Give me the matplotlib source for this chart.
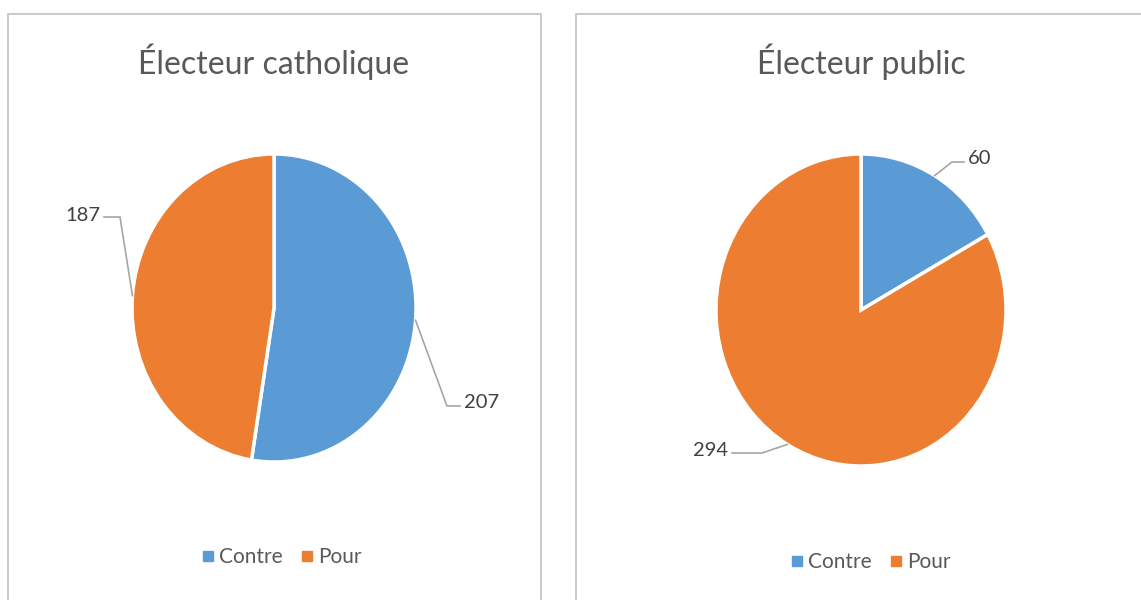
import matplotlib
matplotlib.use("Agg")
import numpy as np
import matplotlib.pyplot as plt
from matplotlib.patches import Rectangle
from matplotlib.lines import Line2D

W, H = 1141, 600

categories = ['Contre', 'Pour']
catholique = [207, 187]
public = [60, 294]
colors = ['#5B9BD5', '#ED7D31']
txt = '#595959'

plt.rcParams['font.family'] = ['Lato', 'DejaVu Sans']

fig = plt.figure(figsize=(W / 100, H / 100), dpi=100)


def fx(x):
    return x / W


def fy(y):
    return 1 - y / H


def panel(x0, x1, title, values, cx, cy, rx, ry, leg_xy, label_spots):
    # panel frame
    fig.add_artist(Rectangle((fx(x0), fy(603)), (x1 - x0) / W, (603 - 14) / H,
                             transform=fig.transFigure, fill=False,
                             edgecolor='#c6c6c6', linewidth=1.3))
    fig.text(fx(cx), fy(62), title, ha='center', va='center',
             fontsize=23, color=txt)

    # the reference is slightly stretched vertically, so the pie is an ellipse
    ax = fig.add_axes([fx(cx - rx), fy(cy + ry), 2 * rx / W, 2 * ry / H])
    wedges, _ = ax.pie(values, colors=colors, startangle=90, counterclock=False,
                       wedgeprops=dict(edgecolor='white', linewidth=2.5))
    ax.set_xlim(-1, 1)
    ax.set_ylim(-1, 1)
    ax.set_aspect('auto')
    ax.axis('off')

    for w, v, (tx, ty, ha, ex, ey) in zip(wedges, values, label_spots):
        mid = np.deg2rad((w.theta1 + w.theta2) / 2)
        dx, dy = ax.transData.transform((np.cos(mid), np.sin(mid)))
        px, py = dx, H - dy
        sx = tx - 4 if ha == 'left' else tx + 4
        fig.add_artist(Line2D([fx(sx), fx(ex), fx(px)], [fy(ey), fy(ey), fy(py)],
                              transform=fig.transFigure, color='#a6a6a6',
                              linewidth=1.2))
        fig.text(fx(tx), fy(ty), str(v), ha=ha, va='center',
                 fontsize=14.5, color='#404040')

    handles = [Line2D([], [], marker='s', linestyle='', color=c, markersize=7)
               for c in colors]
    fig.legend(handles, categories, loc='center',
               bbox_to_anchor=(fx(leg_xy[0]), fy(leg_xy[1])), ncol=2,
               frameon=False, handlelength=0.5, handletextpad=0.3,
               columnspacing=0.9, fontsize=15, labelcolor=txt)


# label spots: text x, text y, alignment, elbow x, elbow y (pixels)
panel(8, 541, 'Électeur catholique', catholique, 274, 308, 142, 154, (282, 557),
      [(464, 402, 'left', 447, 406), (100, 215, 'right', 120, 217)])
panel(576, 1150, 'Électeur public', public, 861, 310, 145, 156, (871, 562),
      [(968, 158, 'left', 952, 162), (728, 450, 'right', 762, 453)])

fig.savefig('out.png', dpi=100, facecolor='white')
